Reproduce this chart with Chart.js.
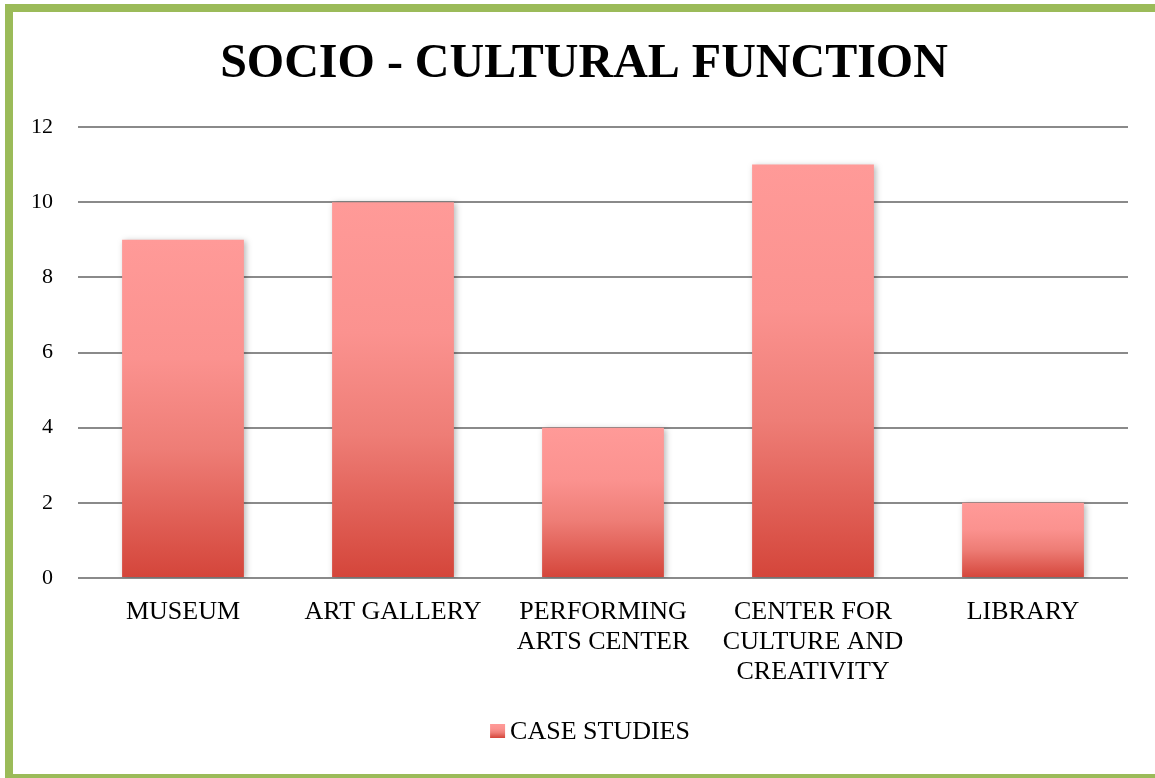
<!DOCTYPE html>
<html>
<head>
<meta charset="utf-8">
<script src="https://cdn.jsdelivr.net/npm/chart.js"></script>
<style>
  html, body { margin: 0; padding: 0; background: #ffffff; }
  #wrap { position: relative; width: 1155px; height: 778px; overflow: hidden; }
  #frame {
    position: absolute; left: 5px; top: 4px; width: 1200px; height: 778px;
    border: 8px solid #9BBB59; box-sizing: border-box; pointer-events: none;
  }
  canvas { position: absolute; left: 0; top: 0; }
</style>
</head>
<body>
<div id="wrap">
  <canvas id="chart" width="1155" height="778"></canvas>
  <div id="frame"></div>
</div>
<script>
// chart data
const categories = [
    ['MUSEUM'],
    ['ART GALLERY'],
    ['PERFORMING', 'ARTS CENTER'],
    ['CENTER FOR', 'CULTURE AND', 'CREATIVITY'],
    ['LIBRARY']
];
const caseStudies = [9, 10, 4, 11, 2];
const yTicks = [0, 2, 4, 6, 8, 10, 12];
const seriesName = 'CASE STUDIES';
const chartTitle = 'SOCIO - CULTURAL FUNCTION';

const serif = '"Liberation Serif", "Times New Roman", serif';

function fillGradient(c, top, base) {
    const g = c.createLinearGradient(0, top, 0, base);
    g.addColorStop(0, '#FF9A98');
    g.addColorStop(0.35, '#FB928F');
    g.addColorStop(0.62, '#EE7D76');
    g.addColorStop(1, '#D4453A');
    return g;
}

// gradient per bar, from its top down to the baseline
function barGradient(context) {
    const chart = context.chart;
    const yScale = chart.scales.y;
    if (!chart.chartArea || !yScale || context.type !== 'data') {
        return '#F08880';
    }
    const top = yScale.getPixelForValue(context.raw);
    const base = yScale.getPixelForValue(0);
    return fillGradient(chart.ctx, top, base);
}

// soft shadow around the bars
const barShadow = {
    id: 'barShadow',
    beforeDatasetsDraw(chart) {
        const ctx = chart.ctx;
        ctx.save();
        ctx.shadowColor = 'rgba(0, 0, 0, 0.28)';
        ctx.shadowBlur = 6;
        ctx.shadowOffsetX = 2;
        ctx.shadowOffsetY = 1;
    },
    afterDatasetsDraw(chart) {
        chart.ctx.restore();
    }
};

// title sits a bit right of the canvas centre in the original
const topTitle = {
    id: 'topTitle',
    afterDraw(chart) {
        const ctx = chart.ctx;
        ctx.save();
        ctx.font = 'bold 48px ' + serif;
        ctx.fillStyle = '#000000';
        ctx.textAlign = 'center';
        ctx.textBaseline = 'alphabetic';
        ctx.fillText(chartTitle, 584, 77);
        ctx.restore();
    }
};

// legend drawn like the original: small gradient square, then the name
const bottomLegend = {
    id: 'bottomLegend',
    afterDraw(chart) {
        const ctx = chart.ctx;
        const name = chart.data.datasets[0].label;
        ctx.save();
        ctx.font = '26px ' + serif;
        const tw = ctx.measureText(name).width;
        const box = 15, gap = 5;
        const cx = 590, cy = 731;
        const x0 = cx - (box + gap + tw) / 2;
        ctx.fillStyle = fillGradient(ctx, cy - 7, cy + 7);
        ctx.fillRect(x0, cy - 7, box, 14);
        ctx.fillStyle = '#000000';
        ctx.textBaseline = 'middle';
        ctx.textAlign = 'left';
        ctx.fillText(name, x0 + box + gap, cy + 1);
        ctx.restore();
    }
};

const ctx = document.getElementById('chart');

new Chart(ctx, {
    type: 'bar',
    data: {
        labels: categories,
        datasets: [{
            label: seriesName,
            data: caseStudies,
            backgroundColor: barGradient,
            borderWidth: 0,
            categoryPercentage: 1,
            barPercentage: 0.58
        }]
    },
    options: {
        responsive: false,
        animation: false,
        layout: {
            padding: { top: 127, right: 27, bottom: 80, left: 0 }
        },
        plugins: {
            title: { display: false },
            legend: { display: false },
            tooltip: { enabled: false }
        },
        scales: {
            x: {
                grid: { display: false, drawTicks: false },
                border: { display: false },
                afterFit: function(scale) {
                    scale.height = 120;
                },
                ticks: {
                    color: '#000000',
                    font: { family: serif, size: 26, lineHeight: 30 / 26 },
                    padding: 19,
                    maxRotation: 0,
                    autoSkip: false
                }
            },
            y: {
                min: 0,
                max: 12,
                afterBuildTicks: function(scale) {
                    scale.ticks = yTicks.map(v => ({ value: v }));
                },
                afterFit: function(scale) {
                    scale.width = 78;
                },
                grid: {
                    color: '#8A8A8A',
                    lineWidth: 2,
                    drawTicks: false
                },
                border: { display: false },
                ticks: {
                    color: '#000000',
                    font: { family: serif, size: 22 },
                    padding: 25
                }
            }
        }
    },
    plugins: [barShadow, topTitle, bottomLegend]
});
</script>
</body>
</html>
